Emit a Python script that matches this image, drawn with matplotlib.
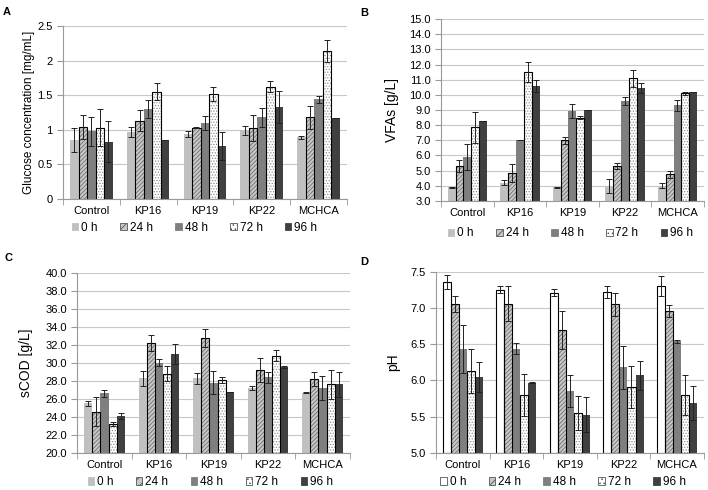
import matplotlib.pyplot as plt
import numpy as np
from matplotlib.patches import Patch

plt.rcParams['font.family'] = ['Liberation Sans', 'DejaVu Sans']
plt.rcParams['hatch.linewidth'] = 0.6

# Data
groups = ['Control', 'KP16', 'KP19', 'KP22', 'MCHCA']
times = ['0 h', '24 h', '48 h', '72 h', '96 h']

# A - glucose [mg/mL], rows = groups, cols = times
glucose = [[0.85, 1.04, 0.98, 1.03, 0.83],
           [0.97, 1.13, 1.30, 1.55, 0.85],
           [0.94, 1.03, 1.10, 1.52, 0.77],
           [0.99, 1.03, 1.18, 1.62, 1.33],
           [0.89, 1.18, 1.44, 2.14, 1.17]]
glucose_err = [[0.17, 0.18, 0.21, 0.27, 0.30],
               [0.07, 0.15, 0.13, 0.12, 0.0],
               [0.04, 0.01, 0.10, 0.10, 0.20],
               [0.06, 0.19, 0.14, 0.08, 0.23],
               [0.02, 0.17, 0.05, 0.16, 0.0]]

# B - VFAs [g/L]
vfa = [[3.9, 5.3, 5.9, 7.85, 8.3],
       [4.2, 4.85, 7.0, 11.5, 10.6],
       [3.9, 7.0, 8.95, 8.5, 9.0],
       [4.0, 5.3, 9.6, 11.1, 10.45],
       [4.0, 4.75, 9.3, 10.1, 10.2]]
vfa_err = [[0.05, 0.4, 0.85, 1.0, 0.0],
           [0.15, 0.6, 0.0, 0.65, 0.4],
           [0.05, 0.25, 0.45, 0.1, 0.0],
           [0.45, 0.2, 0.25, 0.55, 0.3],
           [0.15, 0.25, 0.35, 0.1, 0.0]]

# C - sCOD [g/L]
scod = [[25.5, 24.6, 26.6, 23.2, 24.1],
        [28.3, 32.2, 30.0, 28.8, 31.0],
        [28.3, 32.8, 27.8, 28.1, 26.8],
        [27.2, 29.2, 28.4, 30.8, 29.55],
        [26.7, 28.2, 27.2, 27.6, 27.6]]
scod_err = [[0.3, 1.6, 0.4, 0.2, 0.3],
            [0.85, 0.9, 0.4, 0.8, 1.1],
            [0.6, 1.0, 1.3, 0.3, 0.0],
            [0.2, 1.3, 0.6, 0.6, 0.1],
            [0.1, 0.8, 1.3, 1.6, 1.4]]

# D - pH
ph = [[7.36, 7.05, 6.44, 6.13, 6.05],
      [7.25, 7.06, 6.44, 5.80, 5.97],
      [7.21, 6.70, 5.86, 5.55, 5.53],
      [7.22, 7.05, 6.18, 5.91, 6.07],
      [7.30, 6.96, 6.54, 5.80, 5.69]]
ph_err = [[0.10, 0.11, 0.33, 0.30, 0.21],
          [0.05, 0.24, 0.07, 0.29, 0.01],
          [0.05, 0.26, 0.22, 0.23, 0.24],
          [0.08, 0.16, 0.30, 0.29, 0.20],
          [0.14, 0.08, 0.02, 0.27, 0.23]]

# bar styles per time point: face, hatch, hatch colour, outlined
styles = [('#c0c0c0', None, None, False),
          ('#c8c8c8', '////////', '#707070', True),
          ('#7f7f7f', None, None, False),
          ('#ffffff', '......', '#909090', True),
          ('#404040', None, None, False)]


def panel(rect, values, errors, ylim, step, fmt, ylabel, ylabel_size, labelpad,
          letter, letter_pos, leg_pos, white_first=False):
    ax = fig.add_axes(rect)
    values = np.array(values)
    errors = np.array(errors)
    x = np.arange(len(groups))
    w = 0.15
    handles = []
    for j, t in enumerate(times):
        face, hatch, hcol, outlined = styles[j]
        if white_first and j == 0:
            face, outlined = '#ffffff', True
        pos = x + (j - 2) * w
        base = ylim[0]
        if hatch:
            ax.bar(pos, values[:, j] - base, w, bottom=base, color=face,
                   edgecolor=hcol, hatch=hatch, linewidth=0, zorder=2)
        else:
            ax.bar(pos, values[:, j] - base, w, bottom=base, color=face,
                   linewidth=0, zorder=2)
        if outlined:
            ax.bar(pos, values[:, j] - base, w, bottom=base, fill=False,
                   edgecolor='black', linewidth=0.8, zorder=3)
        ax.errorbar(pos, values[:, j], yerr=errors[:, j], fmt='none',
                    ecolor='#222222', elinewidth=0.7, capsize=2.2,
                    capthick=0.7, zorder=4)
        handles.append(Patch(facecolor=face, hatch=hatch[:4] if hatch else None,
                             edgecolor='#555555' if outlined else face,
                             linewidth=0.6, label=t))
    ax.set_xlim(-0.5, len(groups) - 0.5)
    ax.set_ylim(*ylim)
    ax.set_yticks(np.arange(ylim[0], ylim[1] + step / 2, step))
    ax.yaxis.set_major_formatter(plt.FuncFormatter(lambda v, p: fmt(v)))
    ax.set_xticks(x)
    ax.set_xticklabels(groups)
    ax.set_xticks(np.arange(-0.5, len(groups)), minor=True)
    ax.tick_params(axis='x', which='major', length=0, labelsize=8, pad=5)
    ax.tick_params(axis='x', which='minor', length=4, color='#999999')
    ax.tick_params(axis='y', length=4, color='#999999', labelsize=8)
    ax.grid(axis='y', color='#c8c8c8', linewidth=0.8, zorder=0)
    ax.set_axisbelow(True)
    for s in ['top', 'right']:
        ax.spines[s].set_visible(False)
    for s in ['left', 'bottom']:
        ax.spines[s].set_color('#999999')
        ax.spines[s].set_linewidth(0.8)
    ax.set_ylabel(ylabel, fontsize=ylabel_size, labelpad=labelpad)
    fig.text(letter_pos[0], letter_pos[1], letter, fontsize=8,
             fontweight='bold', ha='left', va='center')
    fig.legend(handles=handles, loc='center', bbox_to_anchor=leg_pos, ncol=5,
               frameon=False, fontsize=8.5, handlelength=0.55,
               handleheight=0.55, handletextpad=0.25, columnspacing=1.9)
    return ax


fig = plt.figure(figsize=(7.08, 4.9), dpi=100)

panel([0.089, 0.594, 0.401, 0.353], glucose, glucose_err, (0, 2.5), 0.5,
      lambda v: '%g' % v, 'Glucose concentration [mg/mL]', 8.5, 1.5, 'A',
      (0.004, 0.976), (0.275, 0.535))
panel([0.623, 0.590, 0.371, 0.371], vfa, vfa_err, (3, 15), 1.0,
      lambda v: '%.1f' % v, 'VFAs [g/L]', 10, 7, 'B',
      (0.509, 0.974), (0.806, 0.524))
panel([0.109, 0.0755, 0.385, 0.368], scod, scod_err, (20, 40), 2.0,
      lambda v: '%.1f' % v, 'sCOD [g/L]', 10, 9, 'C',
      (0.006, 0.474), (0.297, 0.016))
panel([0.616, 0.0755, 0.378, 0.37], ph, ph_err, (5, 7.5), 0.5,
      lambda v: '%.1f' % v, 'pH', 10, 7.5, 'D',
      (0.509, 0.466), (0.795, 0.016), white_first=True)

fig.savefig('out.png', dpi=100)
